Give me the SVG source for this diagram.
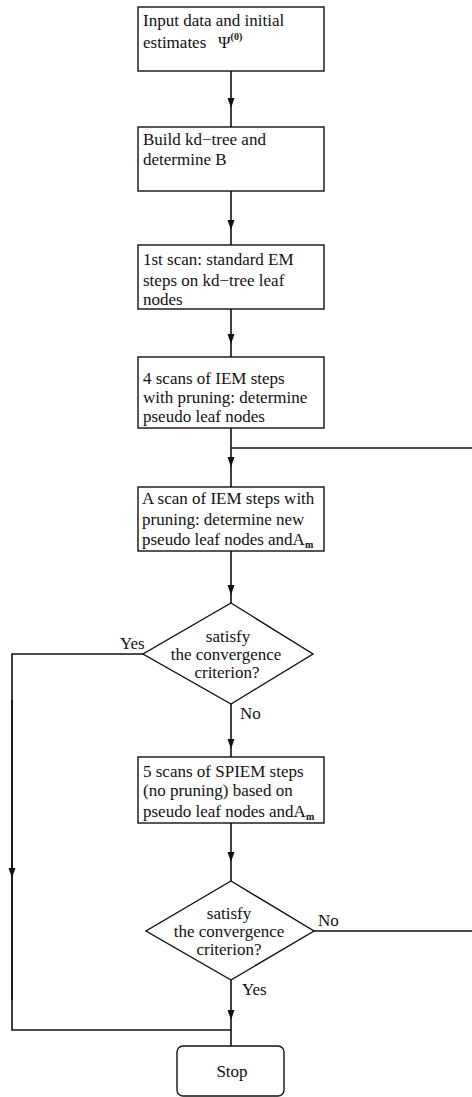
<svg xmlns="http://www.w3.org/2000/svg" width="472" height="1097" viewBox="0 0 472 1097">
<style>
.box{fill:#fff;stroke:#111;stroke-width:1.4}
.ln{fill:none;stroke:#111;stroke-width:1.6}
text{font-family:"Liberation Serif","Times New Roman",serif;font-size:17px;fill:#111}
.c{text-anchor:middle}
.sup{font-size:10px;font-weight:bold}
</style>
<defs>
<marker id="ah" viewBox="0 0 10 10" refX="10" refY="5" markerWidth="10" markerHeight="10" markerUnits="userSpaceOnUse" orient="auto">
<path d="M0,1.5 L10,5 L0,8.5 Z" fill="#111"/>
</marker>
</defs>
<rect width="472" height="1097" fill="#fff"/>
<g id="connectors">
<path class="ln" d="M231,71 L231,108 L231,127" marker-mid="url(#ah)"/>
<path class="ln" d="M231,191 L231,230 L231,245" marker-mid="url(#ah)"/>
<path class="ln" d="M231,309 L231,344 L231,357" marker-mid="url(#ah)"/>
<path class="ln" d="M231,428 L231,467 L231,487" marker-mid="url(#ah)"/>
<path class="ln" d="M231,448 L472,448"/>
<path class="ln" d="M231,551 L231,595 L231,603" marker-mid="url(#ah)"/>
<path class="ln" d="M231,704 L231,749 L231,757" marker-mid="url(#ah)"/>
<path class="ln" d="M231,823 L231,862 L231,881" marker-mid="url(#ah)"/>
<path class="ln" d="M231,980 L231,1020 L231,1046" marker-mid="url(#ah)"/>
<path class="ln" d="M143,654 L12,654 L12,1030 L231,1030"/>
<path class="ln" d="M12,700 L12,878 L12,1000" marker-mid="url(#ah)"/>
<path class="ln" d="M314,931 L472,931"/>
<text x="120" y="649">Yes</text>
<text x="240" y="719">No</text>
<text x="318" y="926">No</text>
<text x="242" y="995">Yes</text>
</g>
<g id="n1">
<rect class="box" x="138" y="7" width="186" height="64"/>
<text x="143" y="26">Input data and initial</text>
<text x="143" y="48">estimates</text>
<text x="218" y="48" font-size="20">Ψ<tspan class="sup" dy="-8">(0)</tspan></text>
</g>
<g id="n2">
<rect class="box" x="138" y="127" width="186" height="64"/>
<text x="143" y="145">Build kd−tree and</text>
<text x="143" y="165">determine B</text>
</g>
<g id="n3">
<rect class="box" x="138" y="245" width="186" height="64"/>
<text x="143" y="265">1st scan: standard EM</text>
<text x="143" y="286">steps on kd−tree leaf</text>
<text x="143" y="305">nodes</text>
</g>
<g id="n4">
<rect class="box" x="138" y="357" width="186" height="71"/>
<text x="143" y="384">4 scans of IEM steps</text>
<text x="143" y="403">with pruning: determine</text>
<text x="143" y="422">pseudo leaf nodes</text>
</g>
<g id="n5">
<rect class="box" x="138" y="487" width="186" height="64"/>
<text x="142" y="504">A scan of IEM steps with</text>
<text x="142" y="525">pruning: determine new</text>
<text x="142" y="545">pseudo leaf nodes andA<tspan class="sup" font-size="13" dy="3">m</tspan></text>
</g>
<g id="d1">
<polygon class="box" points="231,603 313,654 231,704 143,654"/>
<text class="c" x="228" y="642">satisfy</text>
<text class="c" x="226" y="660">the convergence</text>
<text class="c" x="227" y="678">criterion?</text>
</g>
<g id="n6">
<rect class="box" x="138" y="757" width="186" height="66"/>
<text x="143" y="777">5 scans of SPIEM steps</text>
<text x="143" y="796">(no pruning) based on</text>
<text x="143" y="817">pseudo leaf nodes andA<tspan class="sup" font-size="13" dy="3">m</tspan></text>
</g>
<g id="d2">
<polygon class="box" points="231,881 314,931 231,980 146,931"/>
<text class="c" x="229" y="919">satisfy</text>
<text class="c" x="229" y="937">the convergence</text>
<text class="c" x="229" y="955">criterion?</text>
</g>
<g id="stop">
<rect class="box" x="177" y="1046" width="107" height="50" rx="6"/>
<text class="c" x="232" y="1077">Stop</text>
</g>
</svg>
